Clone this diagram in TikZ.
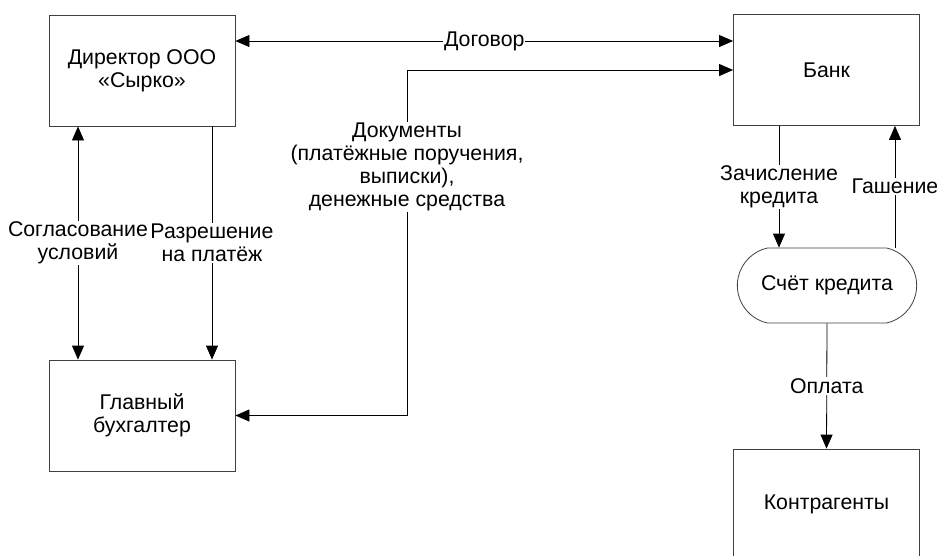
\documentclass[tikz,border=0pt]{standalone}
\usepackage{fontspec}
\setmainfont{Liberation Sans}
\usetikzlibrary{arrows.meta,shapes.misc}
\begin{document}
\begin{tikzpicture}[x=1pt,y=-1pt,
  txt/.style={font=\fontsize{21.3}{23}\selectfont,align=center},
  box/.style={txt,draw=black!75,line width=0.8pt,minimum width=186pt,minimum height=111pt},
  acctbox/.style={txt,draw=black!75,line width=0.8pt,rounded rectangle,rounded rectangle arc length=155,minimum width=186pt,minimum height=75pt},
  lbl/.style={txt,fill=white,inner sep=1pt},
  conn/.style={line width=0.8pt,-{Triangle[length=14pt,width=12pt]}},
  conn2/.style={line width=0.8pt,{Triangle[length=14pt,width=12pt]}-{Triangle[length=14pt,width=12pt]}}]
\useasboundingbox (0,0) rectangle (937,555);
\node[box] (dir) at (142,70.5) {Директор ООО\\«Сырко»};
\node[box] (bank) at (826.5,70) {Банк};
\node[box] (glav) at (142,415.5) {Главный\\бухгалтер};
\node[box] (kontr) at (826.5,504.5) {Контрагенты};
\node[acctbox] (acct) at (827,285.5) {Счёт кредита};

\draw[conn2] (dir.east |- 0,41) -- node[lbl] {Договор} (bank.west |- 0,41);
\draw[conn2] (bank.west) -- (407,70) -- (407,415.5) node[lbl,pos=0.28] {Документы\\(платёжные поручения,\\выписки),\\денежные средства} -- (glav.east);
\draw[conn2] (dir.south -| 78,0) -- node[lbl] {Согласование\\условий} (glav.north -| 78,0);
\draw[conn] (dir.south -| 212,0) -- node[lbl] {Разрешение\\на платёж} (glav.north -| 212,0);
\draw[conn] (bank.south -| 779,0) -- node[lbl] {Зачисление\\кредита} (acct.north -| 779,0);
\draw[conn] (acct.north -| 895,0) -- node[lbl] {Гашение} (bank.south -| 895,0);
\draw[conn] (acct.south) -- node[lbl] {Оплата} (kontr.north);
\end{tikzpicture}
\end{document}
